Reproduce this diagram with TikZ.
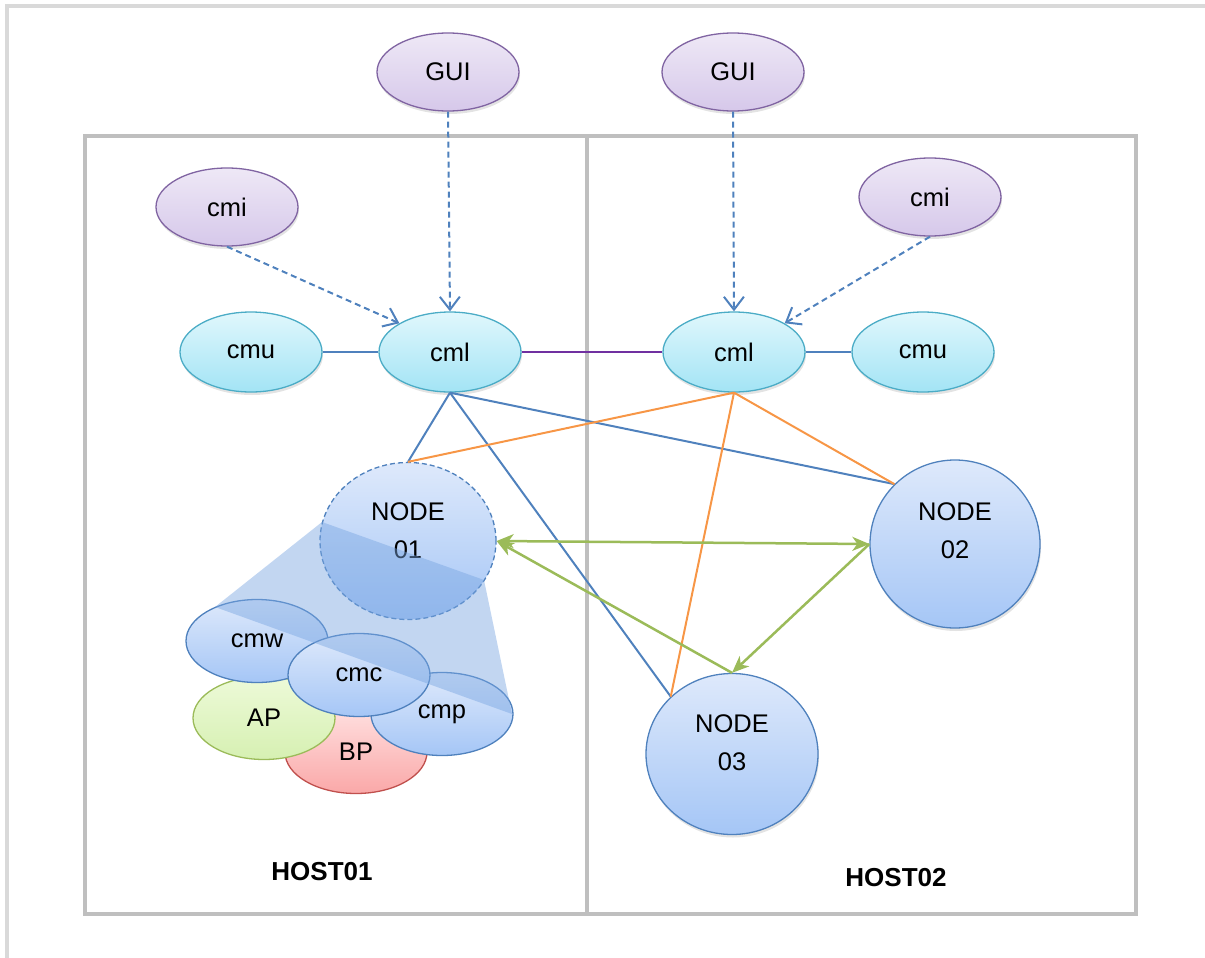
\documentclass[tikz,border=0pt]{standalone}
\usepackage{fontspec}
\setmainfont{Liberation Sans}
\usetikzlibrary{shapes.geometric,arrows.meta,shadows}

\definecolor{frameGray}{RGB}{217,217,217}
\definecolor{hostGray}{RGB}{191,191,191}
\definecolor{violetEdge}{RGB}{128,100,162}
\definecolor{violetTop}{RGB}{238,232,246}
\definecolor{violetBot}{RGB}{214,200,234}
\definecolor{cyanEdge}{RGB}{75,172,198}
\definecolor{cyanTop}{RGB}{224,247,252}
\definecolor{cyanBot}{RGB}{163,228,245}
\definecolor{blueEdge}{RGB}{79,129,189}
\definecolor{blueTop}{RGB}{222,233,251}
\definecolor{blueBot}{RGB}{165,198,246}
\definecolor{greenEdge}{RGB}{155,187,89}
\definecolor{greenTop}{RGB}{237,250,216}
\definecolor{greenBot}{RGB}{214,240,178}
\definecolor{redEdge}{RGB}{192,80,77}
\definecolor{redTop}{RGB}{255,222,222}
\definecolor{redBot}{RGB}{250,168,168}
\definecolor{linkBlue}{RGB}{79,129,189}
\definecolor{linkOrange}{RGB}{247,150,70}
\definecolor{linkPurple}{RGB}{112,48,160}
\definecolor{linkGreen}{RGB}{155,187,89}
\definecolor{coneBlue}{RGB}{120,165,225}

\tikzset{
  ball/.style={ellipse, inner sep=0pt, line width=1.3pt,
    font=\fontsize{25.5}{38}\selectfont, align=center},
  softshadow/.style={drop shadow={opacity=0.22, shadow xshift=1pt, shadow yshift=-3pt}},
  violetball/.style={ball, minimum width=142pt, minimum height=78pt,
    draw=violetEdge, top color=violetTop, bottom color=violetBot, softshadow},
  cyanball/.style={ball, minimum width=142pt, minimum height=80pt,
    draw=cyanEdge, top color=cyanTop, bottom color=cyanBot, softshadow},
  blueball/.style={ball, draw=blueEdge, top color=blueTop, bottom color=blueBot},
  smallball/.style={ball, minimum width=142pt, minimum height=83pt},
  greenball/.style={smallball, draw=greenEdge, top color=greenTop, bottom color=greenBot},
  redball/.style={smallball, draw=redEdge, top color=redTop, bottom color=redBot},
  nodetext/.style={font=\fontsize{25.5}{38}\selectfont, align=center, inner sep=0pt},
  hostbox/.style={draw=hostGray, line width=3.5pt},
  hostlabel/.style={font=\fontsize{26}{30}\selectfont\bfseries},
  dashlink/.style={draw=linkBlue, line width=2pt, dash pattern=on 6pt off 4pt,
    -{Straight Barb[length=13pt, width=20pt, line width=2pt]}},
  bluelink/.style={draw=linkBlue, line width=2pt},
  orangelink/.style={draw=linkOrange, line width=2pt},
  greenlink/.style={draw=linkGreen, line width=2.5pt},
  greentip/.tip={Stealth[length=17pt, width=14pt, inset=5pt]},
}

\begin{document}
\begin{tikzpicture}[x=1pt, y=-1pt]
\useasboundingbox (0,0) rectangle (1205,958);

% outer page frame
\draw[draw=frameGray, line width=4pt] (6.5,958) -- (6.5,6) -- (1205,6);

% host areas
\draw[hostbox] (85,136) rectangle (587,914);
\draw[hostbox] (587,136) rectangle (1136,914);
\node[hostlabel] (host1) at (322,872) {HOST01};
\node[hostlabel] (host2) at (896,878) {HOST02};

% management nodes
\node[violetball] (gui1) at (448,72) {GUI};
\node[violetball] (gui2) at (733,72) {GUI};
\node[violetball] (cmi1) at (227,207) {cmi};
\node[violetball] (cmi2) at (930,197) {cmi};
\node[cyanball] (cmu1) at (251,352) {cmu};
\node[cyanball] (cml1) at (450,352) {cml};
\node[cyanball] (cml2) at (734,352) {cml};
\node[cyanball] (cmu2) at (923,352) {cmu};

% cluster nodes (labels sit a little above the centre)
\node[blueball, minimum width=176pt, minimum height=157pt, dash pattern=on 5pt off 3pt]
  (n1) at (408,541) {};
\node[nodetext] (n1t) at (408,531) {NODE\\01};
\node[blueball, softshadow, minimum width=170pt, minimum height=168pt]
  (n2) at (955,544) {};
\node[nodetext] (n2t) at (955,531) {NODE\\02};
\node[blueball, softshadow, minimum width=172pt, minimum height=161pt]
  (n3) at (732,754) {};
\node[nodetext] (n3t) at (732,743) {NODE\\03};

% processes inside NODE 01
\node[redball] (bp) at (356,752) {BP};
\node[greenball] (ap) at (264,718) {AP};
\node[blueball, smallball] (cmp) at (442,714) {cmp};
\node[blueball, smallball] (cmw) at (257,641) {cmw};
\node[blueball, smallball] (cmc) at (359,675) {cmc};

% zoom cone from NODE 01 onto its processes
\fill[coneBlue, fill opacity=0.45] (322,522) -- (484,580) -- (512,714) -- (215,607) -- cycle;

% interface links
\draw[dashlink] (gui1.south) -- (cml1.north);
\draw[dashlink] (gui2.south) -- (cml2.north);
\draw[dashlink] (cmi1.south) -- (cml1.north west);
\draw[dashlink] (cmi2.south) -- (cml2.north east);
\draw[draw=linkBlue, line width=1.5pt] (cmu1.east) -- (cml1.west);
\draw[draw=linkBlue, line width=1.5pt] (cml2.east) -- (cmu2.west);
\draw[draw=linkPurple, line width=1.5pt] (cml1.east) -- (cml2.west);

% cml to nodes
\draw[bluelink] (cml1.south) -- (n1.north);
\draw[bluelink] (cml1.south) -- (n3.north west);
\draw[bluelink] (cml1.south) -- (n2.north west);
\draw[orangelink] (cml2.south) -- (n1.north);
\draw[orangelink] (cml2.south) -- (n3.north west);
\draw[orangelink] (cml2.south) -- (n2.north west);

% node to node links
\draw[greenlink, greentip-greentip] (n1.east) -- (n2.west);
\draw[greenlink, -greentip] (n2.west) -- (n3.north);
\draw[greenlink, -greentip] (n3.north) -- (n1.east);
\end{tikzpicture}
\end{document}
